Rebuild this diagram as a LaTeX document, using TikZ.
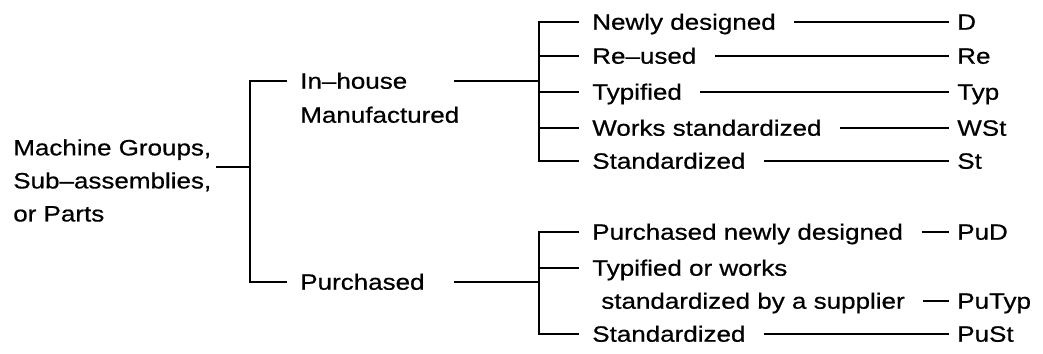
\documentclass[tikz,border=0pt]{standalone}
\usepackage{fontspec}
\setmainfont{Liberation Sans}[FakeStretch=1.17, FakeBold=0.6]
\usepackage{tikz}
\usetikzlibrary{calc}

\begin{document}
\begin{tikzpicture}[
  x=0.025cm, y=-0.025cm,
  lbl/.style={inner sep=0pt, anchor=west, text height=12pt, text depth=1pt,
    font=\fontsize{15.8}{23.5}\selectfont},
  tree/.style={line width=1.4pt},
  fork/.style={tree, shorten <=9pt, shorten >=9pt},
  lead/.style={tree, shorten <=13pt, shorten >=6pt}
]
\useasboundingbox (0,0) rectangle (1043,354);

% Root
\node[inner sep=0pt, anchor=north west, align=left,
  font=\fontsize{15.8}{23.5}\selectfont] (root) at (13,139)
  {Machine Groups,\\Sub--assemblies,\\or Parts};
\coordinate (rj) at (250,167);

% First level
\node[lbl] (ih) at (300,81) {In--house};
\node[lbl] (ihm) at ($(ih.west)+(0,34)$) {Manufactured};
\node[lbl] (pu) at (300,282) {Purchased};
\coordinate (ihj) at (539,81);
\coordinate (puj) at (539,282);

% In-house leaves
\node[lbl] (nd) at (592,22)  {Newly designed};
\node[lbl] (ru) at (592,56)  {Re--used};
\node[lbl] (ty) at (592,92)  {Typified};
\node[lbl] (ws) at (592,128) {Works standardized};
\node[lbl] (st) at (592,161) {Standardized};

% Purchased leaves
\node[lbl] (pnd) at (592,232) {Purchased newly designed};
\node[lbl] (ptw) at (592,268) {Typified or works};
\node[lbl] (pts) at (601,301) {standardized by a supplier};
\node[lbl] (pst) at (592,334) {Standardized};

% Codes
\node[lbl] (cD)   at (957,22)  {D};
\node[lbl] (cRe)  at (957,56)  {Re};
\node[lbl] (cTyp) at (957,92)  {Typ};
\node[lbl] (cWSt) at (957,128) {WSt};
\node[lbl] (cSt)  at (957,161) {St};
\node[lbl] (cPuD)   at (957,232) {PuD};
\node[lbl] (cPuTyp) at (957,301) {PuTyp};
\node[lbl] (cPuSt)  at (957,334) {PuSt};

% Tree lines
\draw[tree, shorten <=3pt] (root.east |- rj) -- (rj);
\draw[fork] (ih.west) -| (rj) |- (pu.west);
\draw[tree, shorten <=33pt] (ih.east) -- (ihj);
\draw[tree, shorten <=21pt] (pu.east) -- (puj);
\draw[fork] (nd.west) -| (ihj) |- (st.west);
\foreach \n in {ru,ty,ws}
  \draw[tree, shorten >=9pt] (ihj) |- (\n.west);
\draw[fork] (pnd.west) -| (puj) |- (pst.west);
\draw[tree, shorten >=9pt] (puj) |- (ptw.west);

% Leads to codes
\draw[lead] (nd.east) -- (cD.west);
\draw[lead] (ru.east) -- (cRe.west);
\draw[lead] (ty.east) -- (cTyp.west);
\draw[lead] (ws.east) -- (cWSt.west);
\draw[lead] (st.east) -- (cSt.west);
\draw[lead] (pnd.east) -- (cPuD.west);
\draw[lead] (pts.east) -- (cPuTyp.west);
\draw[lead] (pst.east) -- (cPuSt.west);

\end{tikzpicture}
\end{document}
